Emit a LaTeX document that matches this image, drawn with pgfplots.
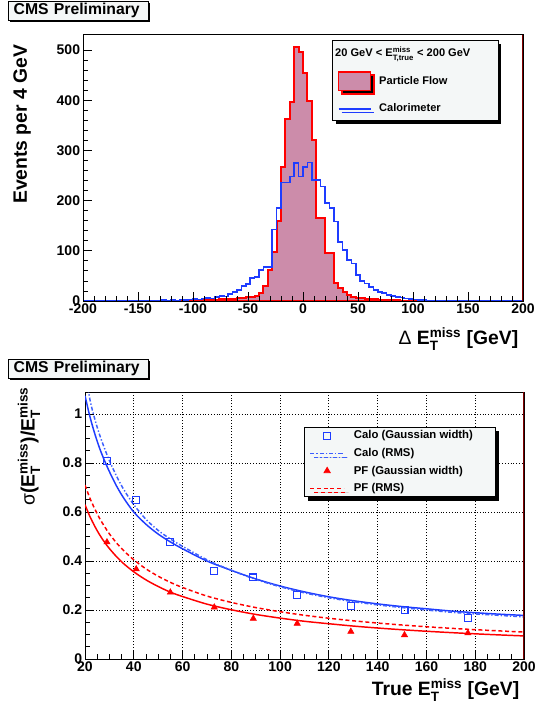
\documentclass[border=0pt]{standalone}
\usepackage{fontspec}
\setmainfont{Liberation Sans}
\usepackage{amsmath}
\usepackage{pgfplots}
\usepackage{pgfplotstable}
\pgfplotsset{compat=1.18}
\usetikzlibrary{shadows}
\definecolor{pfcol}{RGB}{204,140,170}
\definecolor{calocol}{RGB}{30,60,255}
\definecolor{calorms}{RGB}{60,95,255}
\definecolor{boxfill}{RGB}{244,247,247}
\definecolor{framered}{RGB}{130,0,0}
\newcommand{\ticksize}{\fontsize{10.5}{12}\selectfont\bfseries}
\newcommand{\labsize}{\fontsize{14.5}{16}\selectfont\bfseries}
\newcommand{\Emiss}[1]{E$^{\text{miss}}_{\text{#1}}$}
\begin{document}
\pgfplotstableread{
x y
-200 0
-104 1
-100 1
-96 0
-92 2
-88 1
-84 2
-80 2
-76 3
-72 3
-68 4
-64 4
-60 5
-56 6
-52 7
-48 7
-44 9
-40 16
-36 30
-32 62
-28 98
-24 160
-20 267
-16 363
-12 397
-8 507
-4 496
0 454
4 398
8 320
12 165
16 165
20 96
24 96
28 36
32 26
36 18
40 12
44 8
48 6
52 5
56 4
60 3
64 3
68 2
72 2
76 1
80 1
84 1
88 0
200 0
}\pfdata
\pgfplotstableread{
x y
-200 0
-172 1
-168 0
-148 1
-144 0
-136 1
-132 1
-128 2
-124 1
-120 2
-116 1
-112 3
-108 2
-104 3
-100 4
-96 3
-92 5
-88 6
-84 5
-80 8
-76 10
-72 9
-68 14
-64 18
-60 22
-56 30
-52 34
-48 46
-44 48
-40 62
-36 68
-32 68
-28 142
-24 185
-20 236
-16 236
-12 248
-8 275
-4 248
0 267
4 276
8 241
12 241
16 228
20 195
24 185
28 158
32 118
36 102
40 82
44 75
48 52
52 40
56 35
60 28
64 22
68 18
72 16
76 12
80 10
84 8
88 7
92 5
96 4
100 3
104 2
108 2
112 1
116 1
120 0
132 1
136 0
200 0
}\calodata
\pgfplotstableread{
x y
29 0.808
41 0.649
55 0.476
73 0.359
89 0.333
107 0.262
129 0.218
151 0.199
177 0.166
}\calogauss
\pgfplotstableread{
x y
29 0.477
41 0.367
55 0.272
73 0.211
89 0.165
107 0.145
129 0.112
151 0.098
177 0.106
}\pfgauss
\pgfplotstableread{
x y
20 1.075
22 0.99
24 0.92
26 0.86
28 0.81
30 0.765
33 0.705
36 0.655
40 0.60
45 0.55
50 0.51
55 0.478
60 0.450
70 0.400
80 0.362
90 0.327
100 0.298
110 0.274
120 0.254
130 0.238
140 0.225
150 0.214
160 0.205
170 0.196
180 0.189
190 0.183
200 0.178
}\calofit
\pgfplotstableread{
x y
20 1.18
22 1.06
24 0.98
26 0.915
28 0.86
30 0.81
33 0.745
36 0.69
40 0.63
45 0.57
50 0.525
55 0.49
60 0.46
70 0.405
80 0.362
90 0.325
100 0.295
110 0.27
120 0.25
130 0.234
140 0.221
150 0.21
160 0.2
170 0.191
180 0.184
190 0.178
200 0.172
}\calormsdata
\pgfplotstableread{
x y
20 0.630
22 0.582
24 0.542
26 0.507
28 0.477
30 0.451
33 0.417
36 0.388
40 0.356
45 0.323
50 0.296
55 0.273
60 0.255
70 0.224
80 0.201
90 0.182
100 0.167
110 0.154
120 0.144
130 0.1345
140 0.1265
150 0.1195
160 0.1133
170 0.1078
180 0.1028
190 0.0983
200 0.0942
}\pffit
\pgfplotstableread{
x y
20 0.710
22 0.657
24 0.613
26 0.574
28 0.541
30 0.511
33 0.473
36 0.441
40 0.405
45 0.368
50 0.338
55 0.313
60 0.292
70 0.257
80 0.231
90 0.210
100 0.193
110 0.1785
120 0.1664
130 0.1559
140 0.1468
150 0.1388
160 0.1317
170 0.1254
180 0.1198
190 0.1147
200 0.1100
}\pfrmsdata
\begin{tikzpicture}
\useasboundingbox (0pt,0pt) rectangle (401.25pt,-534pt);
\pgfplotsset{
  cmsaxis/.style={
    scale only axis,
    anchor=south west,
    axis line style={black, line width=0.6pt},
    tick style={black, line width=0.6pt},
    tick align=inside,
    xtick pos=bottom, ytick pos=left,
    major tick length=7pt, minor tick length=3.8pt,
    tick label style={font=\ticksize},
    /pgf/number format/assume math mode=true,
    xticklabel style={inner ysep=1.5pt},
    yticklabel style={inner xsep=2pt},
    legend cell align=left,
  }
}
% ---------------- top panel ----------------
\begin{axis}[cmsaxis,
  at={(62.25pt,-225.75pt)}, width=330pt, height=200.25pt,
  xmin=-200, xmax=200, ymin=0, ymax=532,
  xtick={-200,-150,...,200}, minor x tick num=4,
  ytick={0,100,...,500}, minor y tick num=4,
  axis on top,
  xlabel={{\mdseries Δ} \Emiss{T} [GeV]},
  xlabel style={font=\labsize, at={(axis description cs:1,-0.142)}, anchor=east},
  ylabel={Events per 4 GeV},
  ylabel style={font=\labsize, at={(axis description cs:-0.1386,0.9775)}, anchor=east},
  legend style={at={(axis description cs:0.566,0.9775)}, anchor=north west,
    fill=boxfill, draw=black, line width=0.6pt,
    font=\fontsize{8.3}{10}\selectfont\bfseries,
    inner xsep=4pt, inner ysep=4pt, row sep=8.5pt,
    nodes={inner sep=1pt},
    /tikz/every odd column/.append style={column sep=5pt},
    drop shadow={shadow xshift=2.5pt, shadow yshift=-2.5pt, opacity=1, fill=black}},
]
\addlegendimage{empty legend}
\addlegendentry{\hspace*{-33pt}\makebox[117pt][l]{20 GeV < \Emiss{T,true} < 200 GeV}}
\addplot[const plot, fill=pfcol, draw=red, line width=1.5pt,
  legend image code/.code={\draw[fill=pfcol, draw=red, line width=1.1pt] (0pt,-7pt) rectangle (24pt,7pt);}]
  table[x=x,y=y] {\pfdata} \closedcycle;
\addlegendentry{Particle Flow}
\addplot[const plot, draw=calocol, line width=1.1pt,
  legend image code/.code={\draw[calocol, line width=1pt] (0pt,0pt) -- (24pt,0pt);}]
  table[x=x,y=y] {\calodata};
\addlegendentry{Calorimeter}
\draw[framered, line width=0.8pt] (axis description cs:1,0) -- (axis description cs:1,1);
\end{axis}
% ---------------- bottom panel ----------------
\begin{axis}[cmsaxis,
  at={(63.75pt,-494.25pt)}, width=329.25pt, height=200.25pt,
  xmin=20, xmax=200, ymin=0, ymax=1.09,
  xtick={20,40,...,200}, minor x tick num=3,
  ytick={0,0.2,0.4,0.6,0.8,1}, minor y tick num=3,
  grid=major,
  major grid style={black, line width=0.6pt, dash pattern=on 0.8pt off 1.3pt},
  xlabel={True \Emiss{T} [GeV]},
  xlabel style={font=\labsize, at={(axis description cs:1,-0.116)}, anchor=east},
  ylabel={{\mdseries σ}(\Emiss{T})/\Emiss{T}},
  ylabel style={font=\labsize, at={(axis description cs:-0.1276,1.037)}, anchor=east},
  legend image code/.code={\draw[mark repeat=2,mark phase=2,#1] plot coordinates {(0pt,0pt) (12.5pt,0pt) (25pt,0pt)};},
  legend style={at={(axis description cs:0.4989,0.869)}, anchor=north west,
    fill=boxfill, draw=black, line width=0.6pt,
    font=\fontsize{8.5}{10}\selectfont\bfseries,
    inner xsep=4pt, inner ysep=1.5pt, row sep=3.5pt,
    nodes={inner sep=1pt},
    /tikz/every odd column/.append style={column sep=6pt},
    drop shadow={shadow xshift=3pt, shadow yshift=-3pt, opacity=1, fill=black}},
]
\addplot[calocol, line width=1.1pt, smooth, forget plot] table[x=x,y=y] {\calofit};
\addplot[red, line width=1.1pt, smooth, forget plot] table[x=x,y=y] {\pffit};
\addplot[only marks, mark=square, mark size=2.6pt, calocol, mark options={line width=0.8pt}]
  table[x=x,y=y] {\calogauss};
\addlegendentry{\makebox[101pt][l]{Calo (Gaussian width)}}
\addplot[calorms, line width=1.1pt, smooth, dash pattern=on 3pt off 1.5pt on 1pt off 1.5pt]
  table[x=x,y=y] {\calormsdata};
\addlegendentry{Calo (RMS)}
\addplot[only marks, mark=triangle*, mark size=2.7pt, red]
  table[x=x,y=y] {\pfgauss};
\addlegendentry{PF (Gaussian width)}
\addplot[red, line width=1.1pt, smooth, dash pattern=on 3pt off 2pt]
  table[x=x,y=y] {\pfrmsdata};
\addlegendentry{PF (RMS)}
\draw[framered, line width=0.8pt] (axis description cs:1,0) -- (axis description cs:1,1);
\end{axis}
% ---------------- CMS Preliminary labels ----------------
\node[anchor=north west, draw=black, line width=0.6pt, fill=boxfill,
  drop shadow={shadow xshift=1.5pt, shadow yshift=-1.5pt, opacity=1, fill=black},
  text width=97pt, inner xsep=4pt, inner ysep=1pt, minimum height=14.25pt, align=left,
  font=\fontsize{11.8}{13}\selectfont\bfseries] at (6pt,-0.75pt) {CMS Preliminary};
\node[anchor=north west, draw=black, line width=0.6pt, fill=boxfill,
  drop shadow={shadow xshift=1.5pt, shadow yshift=-1.5pt, opacity=1, fill=black},
  text width=97pt, inner xsep=4pt, inner ysep=1pt, minimum height=14.25pt, align=left,
  font=\fontsize{11.8}{13}\selectfont\bfseries] at (6pt,-269.25pt) {CMS Preliminary};
\end{tikzpicture}
\end{document}
